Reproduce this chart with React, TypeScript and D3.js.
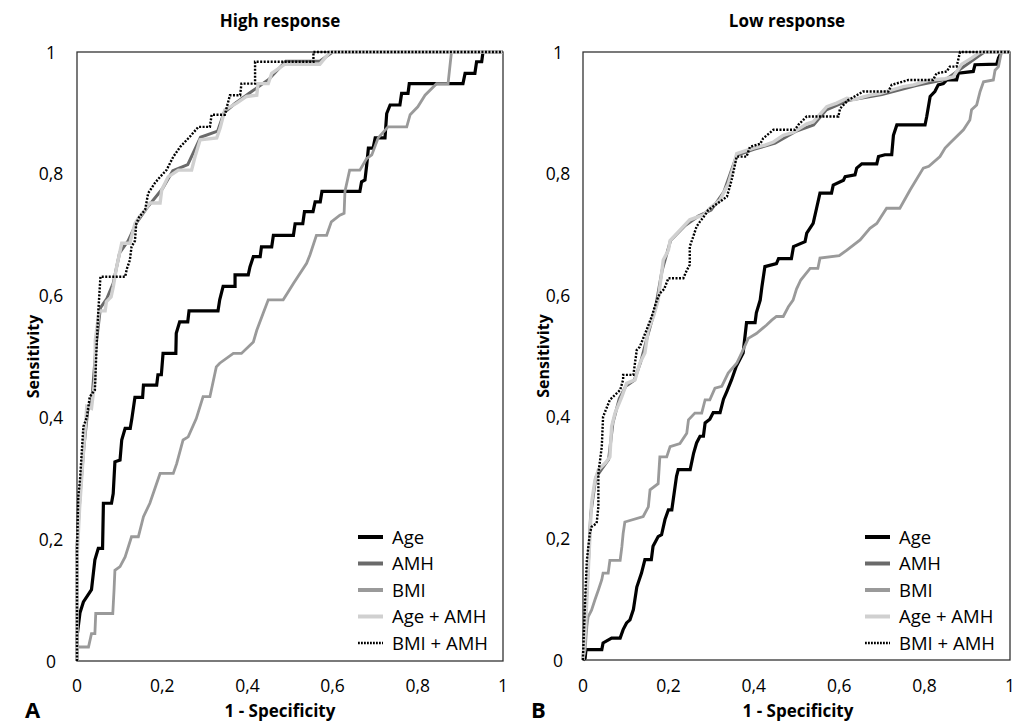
import React from "react";
import * as d3 from "d3";

type Pt = [number, number];

const tickValues = [0, 0.2, 0.4, 0.6, 0.8, 1];
const tickLabels = ["0", "0,2", "0,4", "0,6", "0,8", "1"];
const seriesNames = ["Age", "AMH", "BMI", "Age + AMH", "BMI + AMH"];
const panelTitles = ["High response", "Low response"];
const panelLetters = ["A", "B"];

// Panel A (High response)
const ageA: Pt[] = [[0,0],[0,0.04],[0.007,0.079],[0.015,0.097],[0.034,0.117],[0.042,0.166],[0.05,0.185],[0.06,0.185],[0.062,0.259],[0.081,0.259],[0.085,0.275],[0.089,0.327],[0.101,0.33],[0.105,0.363],[0.113,0.382],[0.125,0.382],[0.129,0.399],[0.136,0.433],[0.154,0.433],[0.156,0.453],[0.187,0.453],[0.19,0.47],[0.198,0.47],[0.202,0.505],[0.232,0.505],[0.233,0.538],[0.241,0.557],[0.26,0.557],[0.263,0.575],[0.331,0.575],[0.335,0.593],[0.343,0.615],[0.371,0.615],[0.371,0.634],[0.402,0.634],[0.406,0.647],[0.414,0.664],[0.43,0.664],[0.433,0.68],[0.457,0.68],[0.461,0.699],[0.508,0.699],[0.512,0.718],[0.53,0.718],[0.534,0.738],[0.554,0.738],[0.559,0.754],[0.571,0.754],[0.575,0.771],[0.664,0.771],[0.668,0.787],[0.676,0.79],[0.68,0.814],[0.684,0.842],[0.695,0.842],[0.7,0.859],[0.723,0.859],[0.727,0.899],[0.735,0.913],[0.758,0.913],[0.762,0.932],[0.777,0.932],[0.78,0.948],[0.906,0.948],[0.911,0.965],[0.934,0.965],[0.938,0.984],[0.95,0.984],[0.953,1],[1,1]];
const amhA: Pt[] = [[0,0],[0,0.19],[0.008,0.28],[0.016,0.35],[0.025,0.41],[0.035,0.43],[0.045,0.52],[0.055,0.58],[0.07,0.595],[0.085,0.62],[0.1,0.67],[0.12,0.69],[0.14,0.72],[0.165,0.745],[0.2,0.775],[0.225,0.805],[0.26,0.815],[0.29,0.86],[0.33,0.87],[0.345,0.9],[0.37,0.915],[0.41,0.935],[0.45,0.955],[0.49,0.985],[0.57,0.985],[0.6,1],[1,1]];
const bmiA: Pt[] = [[0,0],[0,0.023],[0.027,0.023],[0.034,0.045],[0.042,0.045],[0.044,0.078],[0.084,0.078],[0.087,0.117],[0.089,0.149],[0.101,0.155],[0.113,0.171],[0.128,0.204],[0.144,0.204],[0.156,0.237],[0.171,0.259],[0.195,0.308],[0.226,0.308],[0.234,0.324],[0.249,0.363],[0.261,0.368],[0.28,0.398],[0.296,0.434],[0.312,0.434],[0.327,0.483],[0.335,0.489],[0.367,0.505],[0.386,0.505],[0.414,0.524],[0.422,0.543],[0.437,0.571],[0.449,0.593],[0.484,0.593],[0.493,0.603],[0.508,0.62],[0.539,0.653],[0.547,0.667],[0.562,0.699],[0.586,0.699],[0.597,0.721],[0.617,0.732],[0.627,0.735],[0.629,0.771],[0.64,0.806],[0.664,0.806],[0.68,0.825],[0.692,0.831],[0.707,0.859],[0.73,0.877],[0.774,0.877],[0.782,0.897],[0.8,0.91],[0.817,0.929],[0.844,0.948],[0.871,0.948],[0.879,1],[1,1]];
const ageAmhA: Pt[] = [[0,0],[0,0.166],[0.006,0.25],[0.015,0.341],[0.023,0.418],[0.034,0.415],[0.042,0.461],[0.043,0.527],[0.052,0.575],[0.066,0.575],[0.069,0.59],[0.08,0.598],[0.085,0.614],[0.093,0.647],[0.105,0.686],[0.124,0.686],[0.136,0.718],[0.146,0.729],[0.16,0.741],[0.171,0.752],[0.195,0.752],[0.199,0.774],[0.214,0.795],[0.238,0.806],[0.269,0.806],[0.277,0.828],[0.289,0.856],[0.328,0.859],[0.336,0.875],[0.347,0.905],[0.375,0.916],[0.398,0.927],[0.422,0.929],[0.425,0.948],[0.449,0.948],[0.457,0.965],[0.488,0.98],[0.57,0.98],[0.594,1],[1,1]];
const bmiAmhA: Pt[] = [[0,0],[0,0.177],[0.003,0.27],[0.007,0.297],[0.011,0.341],[0.015,0.385],[0.023,0.4],[0.03,0.434],[0.042,0.445],[0.046,0.516],[0.05,0.574],[0.055,0.631],[0.113,0.631],[0.117,0.644],[0.124,0.658],[0.128,0.68],[0.136,0.69],[0.139,0.718],[0.146,0.729],[0.16,0.741],[0.167,0.768],[0.183,0.785],[0.195,0.795],[0.21,0.806],[0.226,0.828],[0.242,0.844],[0.265,0.861],[0.285,0.877],[0.312,0.877],[0.316,0.897],[0.347,0.897],[0.359,0.929],[0.383,0.929],[0.386,0.948],[0.418,0.948],[0.418,0.984],[0.555,0.984],[0.555,1],[1,1]];

// Panel B (Low response)
const ageB: Pt[] = [[0,0],[0.005,0.003],[0.007,0.017],[0.044,0.017],[0.047,0.028],[0.067,0.036],[0.087,0.036],[0.094,0.05],[0.102,0.061],[0.11,0.066],[0.118,0.083],[0.126,0.12],[0.137,0.143],[0.145,0.165],[0.16,0.165],[0.164,0.187],[0.176,0.203],[0.184,0.206],[0.192,0.231],[0.2,0.247],[0.208,0.247],[0.219,0.302],[0.223,0.313],[0.251,0.313],[0.259,0.34],[0.266,0.357],[0.274,0.368],[0.282,0.368],[0.286,0.39],[0.297,0.396],[0.305,0.407],[0.321,0.407],[0.329,0.429],[0.337,0.442],[0.348,0.461],[0.359,0.483],[0.375,0.505],[0.383,0.555],[0.403,0.555],[0.406,0.571],[0.415,0.592],[0.419,0.614],[0.426,0.647],[0.453,0.652],[0.458,0.66],[0.488,0.66],[0.493,0.68],[0.52,0.688],[0.524,0.702],[0.539,0.718],[0.547,0.743],[0.555,0.768],[0.582,0.768],[0.586,0.781],[0.61,0.789],[0.614,0.795],[0.637,0.798],[0.641,0.809],[0.653,0.816],[0.688,0.816],[0.692,0.828],[0.707,0.831],[0.723,0.831],[0.727,0.863],[0.735,0.88],[0.801,0.88],[0.805,0.894],[0.813,0.927],[0.824,0.935],[0.832,0.946],[0.844,0.948],[0.852,0.954],[0.875,0.954],[0.879,0.965],[0.914,0.968],[0.918,0.979],[0.969,0.98],[0.973,0.99],[0.98,1],[1,1]];
const amhB: Pt[] = [[0,0],[0.004,0.06],[0.01,0.12],[0.018,0.24],[0.03,0.3],[0.045,0.315],[0.06,0.33],[0.07,0.39],[0.085,0.43],[0.1,0.45],[0.12,0.46],[0.135,0.49],[0.15,0.53],[0.17,0.58],[0.185,0.64],[0.205,0.69],[0.24,0.715],[0.27,0.73],[0.3,0.74],[0.33,0.77],[0.345,0.8],[0.36,0.83],[0.4,0.84],[0.45,0.85],[0.5,0.87],[0.54,0.88],[0.57,0.905],[0.62,0.92],[0.7,0.93],[0.78,0.945],[0.85,0.955],[0.88,0.97],[0.92,0.99],[0.94,1],[1,1]];
const bmiB: Pt[] = [[0,0],[0.005,0.017],[0.009,0.055],[0.012,0.071],[0.02,0.082],[0.028,0.099],[0.036,0.115],[0.044,0.132],[0.047,0.143],[0.059,0.143],[0.063,0.164],[0.087,0.164],[0.091,0.186],[0.094,0.208],[0.098,0.227],[0.141,0.236],[0.153,0.252],[0.157,0.28],[0.176,0.29],[0.18,0.334],[0.196,0.334],[0.204,0.351],[0.227,0.356],[0.243,0.373],[0.247,0.395],[0.262,0.406],[0.278,0.406],[0.286,0.428],[0.297,0.428],[0.309,0.447],[0.325,0.45],[0.34,0.472],[0.36,0.488],[0.375,0.51],[0.387,0.529],[0.406,0.537],[0.43,0.551],[0.442,0.559],[0.453,0.565],[0.469,0.565],[0.481,0.581],[0.492,0.592],[0.5,0.61],[0.51,0.625],[0.532,0.644],[0.55,0.644],[0.555,0.661],[0.6,0.665],[0.618,0.674],[0.649,0.691],[0.672,0.71],[0.688,0.718],[0.711,0.743],[0.742,0.743],[0.766,0.773],[0.797,0.809],[0.81,0.812],[0.836,0.828],[0.848,0.842],[0.859,0.85],[0.891,0.872],[0.906,0.888],[0.91,0.905],[0.922,0.913],[0.93,0.935],[0.938,0.951],[0.961,0.954],[0.965,0.97],[0.973,0.976],[0.98,1],[1,1]];
const ageAmhB: Pt[] = [[0,0],[0.005,0.044],[0.009,0.099],[0.02,0.258],[0.028,0.296],[0.036,0.313],[0.052,0.324],[0.063,0.334],[0.067,0.384],[0.075,0.406],[0.091,0.433],[0.102,0.455],[0.122,0.461],[0.133,0.488],[0.145,0.505],[0.153,0.543],[0.165,0.565],[0.176,0.592],[0.188,0.658],[0.2,0.674],[0.204,0.69],[0.227,0.707],[0.25,0.724],[0.282,0.732],[0.297,0.743],[0.321,0.757],[0.34,0.783],[0.352,0.811],[0.36,0.833],[0.399,0.842],[0.426,0.847],[0.446,0.852],[0.469,0.863],[0.493,0.868],[0.524,0.882],[0.539,0.885],[0.571,0.91],[0.594,0.916],[0.618,0.924],[0.635,0.922],[0.672,0.929],[0.696,0.932],[0.75,0.943],[0.774,0.946],[0.813,0.954],[0.848,0.956],[0.867,0.959],[0.887,0.98],[0.91,0.99],[0.93,1],[1,1]];
const bmiAmhB: Pt[] = [[0,0],[0,0.005],[0.005,0.099],[0.009,0.164],[0.016,0.208],[0.02,0.219],[0.032,0.225],[0.036,0.252],[0.036,0.307],[0.044,0.351],[0.047,0.4],[0.063,0.428],[0.087,0.444],[0.094,0.461],[0.094,0.469],[0.118,0.469],[0.126,0.51],[0.133,0.515],[0.149,0.543],[0.161,0.565],[0.173,0.592],[0.18,0.603],[0.19,0.61],[0.2,0.628],[0.235,0.628],[0.243,0.641],[0.25,0.65],[0.25,0.68],[0.258,0.696],[0.266,0.713],[0.274,0.721],[0.286,0.732],[0.293,0.74],[0.321,0.754],[0.337,0.762],[0.348,0.789],[0.36,0.828],[0.383,0.828],[0.391,0.844],[0.415,0.849],[0.422,0.858],[0.446,0.872],[0.496,0.872],[0.504,0.88],[0.524,0.894],[0.598,0.894],[0.602,0.907],[0.621,0.921],[0.629,0.924],[0.656,0.935],[0.715,0.935],[0.723,0.946],[0.762,0.954],[0.82,0.954],[0.828,0.965],[0.852,0.968],[0.859,0.976],[0.875,0.976],[0.883,1],[1,1]];

const panelSeries: Pt[][][] = [
  [ageA, amhA, bmiA, ageAmhA, bmiAmhA],
  [ageB, amhB, bmiB, ageAmhB, bmiAmhB],
];

const styles = [
  { color: "#000000", width: 3.2, dash: undefined as string | undefined },
  { color: "#6a6a6a", width: 3, dash: undefined },
  { color: "#9a9a9a", width: 2.8, dash: undefined },
  { color: "#d0d0d0", width: 3.4, dash: undefined },
  { color: "#000000", width: 2.4, dash: "2,1.5" },
];

const panels = [
  { left: 77, right: 503, top: 52, bottom: 661, yLabelX: 51, titleX: 280, axisX: 280, letterX: 25, sensX: 33, legX: 358 },
  { left: 583, right: 1010, top: 52, bottom: 660, yLabelX: 558, titleX: 787, axisX: 798, letterX: 531, sensX: 543, legX: 865 },
];

const FONT = "'Open Sans', 'Noto Sans', sans-serif";

function Panel({ idx }: { idx: number }) {
  const p = panels[idx];
  const x = d3.scaleLinear().domain([0, 1]).range([p.left, p.right]);
  const y = d3.scaleLinear().domain([0, 1]).range([p.bottom, p.top]);
  const line = d3.line<Pt>().x((d) => x(d[0])).y((d) => y(d[1]));
  const series = panelSeries[idx];
  return (
    <g>
      <text x={p.titleX} y={27} textAnchor="middle" fontFamily={FONT} fontWeight="bold" fontSize={17} fill="#000">
        {panelTitles[idx]}
      </text>
      {tickValues.map((v, i) => (
        <text key={"y" + i} x={p.yLabelX} y={y(v) + 6.5} textAnchor="middle" fontFamily={FONT} fontSize={17.5} fill="#000">
          {tickLabels[i]}
        </text>
      ))}
      {tickValues.map((v, i) => (
        <text key={"x" + i} x={x(v)} y={692} textAnchor="middle" fontFamily={FONT} fontSize={17.5} fill="#000">
          {tickLabels[i]}
        </text>
      ))}
      <text x={p.axisX} y={717} textAnchor="middle" fontFamily={FONT} fontWeight="bold" fontSize={17} fill="#000">
        1 - Specificity
      </text>
      <text x={p.letterX} y={718} fontFamily={FONT} fontWeight="bold" fontSize={22} fill="#000">
        {panelLetters[idx]}
      </text>
      <text
        transform={`translate(${p.sensX},${(p.top + p.bottom) / 2}) rotate(-90)`}
        textAnchor="middle"
        dy="0.35em"
        fontFamily={FONT}
        fontWeight="bold"
        fontSize={16}
        fill="#000"
      >
        Sensitivity
      </text>
      <rect x={p.left} y={p.top} width={p.right - p.left} height={p.bottom - p.top} fill="none" stroke="#333" strokeWidth={1.3} />
      {series.map((s, i) => (
        <path
          key={"s" + i}
          d={line(s) || ""}
          fill="none"
          stroke={styles[i].color}
          strokeWidth={styles[i].width}
          strokeDasharray={styles[i].dash}
          strokeLinejoin="miter"
        />
      ))}
      {seriesNames.map((n, i) => {
        const ly = 537 + i * 26.5;
        return (
          <g key={"l" + i}>
            <line
              x1={p.legX}
              x2={p.legX + 25}
              y1={ly}
              y2={ly}
              stroke={styles[i].color}
              strokeWidth={i === 4 ? 2.4 : 4}
              strokeDasharray={styles[i].dash ? "1.8,1.2" : undefined}
            />
            <text x={p.legX + 34} y={ly + 6.5} fontFamily={FONT} fontSize={18.5} fill="#000">
              {n}
            </text>
          </g>
        );
      })}
    </g>
  );
}

export default function App() {
  return (
    <svg
      width={1024}
      height={725}
      style={{ position: "absolute", left: 0, top: 0, background: "#fff" }}
    >
      <rect x={0} y={0} width={1024} height={725} fill="#fff" />
      <Panel idx={0} />
      <Panel idx={1} />
    </svg>
  );
}
